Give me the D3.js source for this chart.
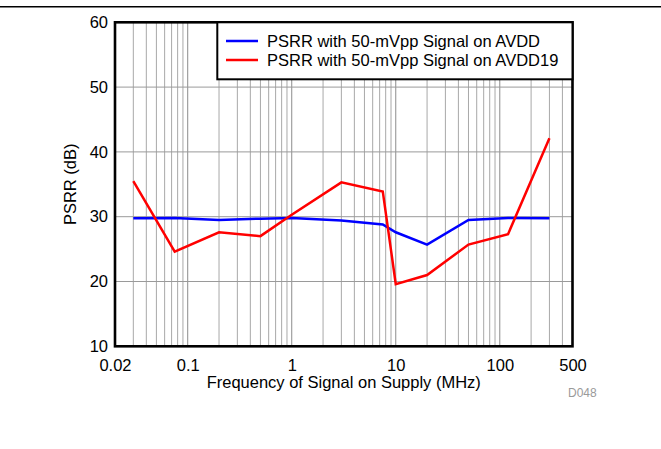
<!DOCTYPE html>
<html><head><meta charset="utf-8">
<script src="https://cdn.jsdelivr.net/npm/d3@7"></script>
<style>
html,body{margin:0;padding:0;background:#fff;}
svg{display:block;font-family:"Liberation Sans",Arial,sans-serif;}
</style></head>
<body><svg id="c" width="661" height="449"></svg>
<script>
const freqs = [0.03, 0.075, 0.2, 0.5, 1, 3, 7.5, 10, 20, 50, 120, 300];
const psrrAVDD = [29.75, 29.8, 29.5, 29.7, 29.8, 29.4, 28.8, 27.6, 25.7, 29.5, 29.8, 29.75];
const psrrAVDD19 = [35.5, 24.6, 27.6, 27.0, 30.3, 35.3, 33.9, 19.6, 21.0, 25.7, 27.3, 42.1];
const seriesNames = ["PSRR with 50-mVpp Signal on AVDD", "PSRR with 50-mVpp Signal on AVDD19"];
const seriesColors = ["#0000ff", "#ff0000"];
const xTicks = [0.02, 0.1, 1, 10, 100, 500];
const xTickLabels = ["0.02", "0.1", "1", "10", "100", "500"];
const yTicks = [10, 20, 30, 40, 50, 60];
const xTitle = "Frequency of Signal on Supply (MHz)";
const yTitle = "PSRR (dB)";
const note = "D048";

const svg = d3.select("#c");
const L = 115, R = 572.5, T = 22.3, B = 346.3;
const x = d3.scaleLog().domain([0.02, 500]).range([L, R]);
const y = d3.scaleLinear().domain([10, 60]).range([B, T]);

// top rule
svg.append("line").attr("x1", 0).attr("x2", 661).attr("y1", 6.8).attr("y2", 6.8)
  .attr("stroke", "#000").attr("stroke-width", 1.4);

// grid
const minor = [];
[0.01, 0.1, 1, 10, 100].forEach(d => { for (let k = 1; k <= 9; k++) { const v = +(d * k).toPrecision(3); if (v > 0.02 && v < 500) minor.push(v); } });
const g = svg.append("g");
g.selectAll(".vg").data(minor).join("line")
  .attr("x1", d => x(d)).attr("x2", d => x(d)).attr("y1", T).attr("y2", B)
  .attr("stroke", d => [0.1, 1, 10, 100].includes(d) ? "#8c8c8c" : "#a8a8a8").attr("stroke-width", 1);
g.selectAll(".hg").data(yTicks.filter(v => v > 10 && v < 60)).join("line")
  .attr("x1", L).attr("x2", R).attr("y1", d => y(d)).attr("y2", d => y(d))
  .attr("stroke", "#9a9a9a").attr("stroke-width", 1);

// series
const line = d3.line().x(d => x(d[0])).y(d => y(d[1]));
[psrrAVDD, psrrAVDD19].forEach((vals, i) => {
  svg.append("path").datum(freqs.map((f, j) => [f, vals[j]]))
    .attr("d", line).attr("fill", "none").attr("stroke", seriesColors[i])
    .attr("stroke-width", 2.5).attr("stroke-linejoin", "miter");
});

// frame
svg.append("rect").attr("x", L).attr("y", T).attr("width", R - L).attr("height", B - T)
  .attr("fill", "none").attr("stroke", "#000").attr("stroke-width", 2.6);

// axes
const xa = svg.append("g").attr("transform", `translate(0,${B})`)
  .call(d3.axisBottom(x).tickValues(xTicks).tickFormat((d, i) => xTickLabels[i]).tickSize(0).tickPadding(13));
xa.select(".domain").remove();
xa.selectAll("text").attr("font-size", 16.5).attr("fill", "#000").attr("font-family", "Liberation Sans, Arial, sans-serif");
const ya = svg.append("g").attr("transform", `translate(${L},0)`)
  .call(d3.axisLeft(y).tickValues(yTicks).tickSize(0).tickPadding(7));
ya.select(".domain").remove();
ya.selectAll("text").attr("font-size", 16.5).attr("fill", "#000").attr("font-family", "Liberation Sans, Arial, sans-serif");

svg.append("text").attr("x", (L + R) / 2).attr("y", 388).attr("text-anchor", "middle")
  .attr("font-size", 16.5).text(xTitle);
svg.append("text").attr("transform", `translate(76,${(T + B) / 2}) rotate(-90)`).attr("text-anchor", "middle")
  .attr("font-size", 16.5).text(yTitle);
svg.append("text").attr("x", 568).attr("y", 397).attr("font-size", 12).attr("fill", "#9a9a9a").text(note);

// legend
const lg = svg.append("g");
lg.append("rect").attr("x", 217.3).attr("y", T).attr("width", R - 217.3).attr("height", 57)
  .attr("fill", "#fff").attr("stroke", "#000").attr("stroke-width", 2);
seriesNames.forEach((n, i) => {
  const yy = 41 + i * 19;
  lg.append("line").attr("x1", 226).attr("x2", 258).attr("y1", yy).attr("y2", yy)
    .attr("stroke", seriesColors[i]).attr("stroke-width", 2.5);
  lg.append("text").attr("x", 267).attr("y", yy).attr("dy", "0.35em").attr("font-size", 16.5).text(n);
});
</script></body></html>
